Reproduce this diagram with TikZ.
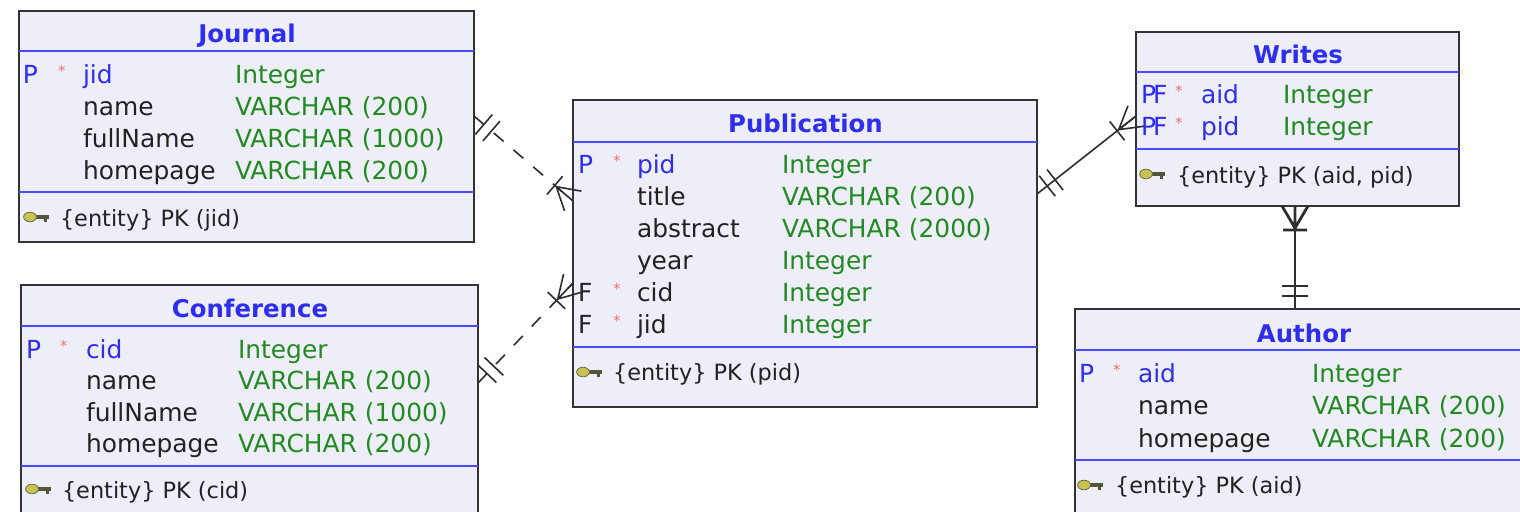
\documentclass[tikz,border=0pt]{standalone}
\usepackage{fontspec}
\usetikzlibrary{fit,decorations.markings}
\newfontfamily\dvsans{DejaVu Sans}
\newcommand\rowfont{\dvsans\fontsize{12.45pt}{14pt}\selectfont}
\newcommand\headfont{\dvsans\bfseries\fontsize{12.2pt}{14pt}\selectfont}
\newcommand\footfont{\dvsans\fontsize{11.2pt}{13pt}\selectfont}
\newcommand\starfont{\dvsans\fontsize{7.5pt}{9pt}\selectfont}
\newcommand\pfmark{P\kern-0.12em F}

\definecolor{tblfill}{HTML}{EEEEF8}
\definecolor{boxline}{HTML}{333333}
\definecolor{sepblue}{HTML}{4A4AFF}
\definecolor{titleblue}{HTML}{2E2EEE}
\definecolor{typegreen}{HTML}{238A23}
\definecolor{reqred}{HTML}{F27070}
\definecolor{txtdark}{HTML}{222222}
\definecolor{connline}{HTML}{2E2E2E}
\definecolor{keyhead}{HTML}{C9C255}
\definecolor{keyedge}{HTML}{6A6A48}

\tikzset{
  tbl/.style={draw=boxline, line width=1.1pt, fill=tblfill, inner sep=0pt, outer sep=0pt},
  sepline/.style={draw=sepblue, line width=0.8pt},
  cell/.style={inner sep=0pt, outer sep=0pt, anchor=base west, font=\rowfont},
  title/.style={inner sep=0pt, outer sep=0pt, anchor=base, font=\headfont, text=titleblue},
  pkflag/.style={cell, text=titleblue},
  fkflag/.style={cell, text=txtdark},
  req/.style={cell, font=\starfont, text=reqred, yshift=3.3pt},
  pkname/.style={cell, text=titleblue},
  colname/.style={cell, text=txtdark},
  coltype/.style={cell, text=typegreen},
  foot/.style={cell, font=\footfont, text=txtdark},
  keyicon/.pic={
    \fill[keyedge!80!black] (4pt,-1.1pt) rectangle (12.5pt,1.1pt);
    \fill[keyedge!80!black] (10pt,-1.1pt) rectangle (11.3pt,-2.6pt);
    \filldraw[fill=keyhead, draw=keyedge, line width=0.4pt] (3pt,0) ellipse [x radius=3.2pt, y radius=2.4pt];
  },
  conn/.style={draw=connline, line width=0.8pt},
  connthick/.style={draw=connline, line width=1.4pt},
  dashline/.style={dash pattern=on 6.5pt off 6.5pt},
  one start/.style={postaction={decorate, decoration={markings, mark=at position 0 with {
    \draw[solid] (6.5pt,-6.5pt) -- (6.5pt,6.5pt) (11.5pt,-6.5pt) -- (11.5pt,6.5pt);}}}},
  many end/.style={postaction={decorate, decoration={markings, mark=at position 1 with {
    \draw[solid] (-11pt,0) -- (0,6.5pt) (-11pt,0) -- (0,0) (-11pt,0) -- (0,-6.5pt)
      (-12pt,-6pt) -- (-12pt,6pt);}}}},
}

\begin{document}
\begin{tikzpicture}[x=0.5pt, y=-0.5pt]
\useasboundingbox (0,0) rectangle (1520,511);
\clip (0,0) rectangle (1520,511);
\fill[white] (0,0) rectangle (1520,511);

% ---------- tables ----------
\node[tbl, fit={(19,11) (474,242)}] (journal) {};
\node[tbl, fit={(21,285) (478,560)}] (conf) {};
\node[tbl, fit={(573,100) (1037,407)}] (pub) {};
\node[tbl, fit={(1136,32) (1459,206)}] (writes) {};
\node[tbl, fit={(1075,309) (1560,560)}] (author) {};

% header and key separators
\draw[sepline] (journal.west |- 0,51) -- (journal.east |- 0,51);
\draw[sepline] (journal.west |- 0,192) -- (journal.east |- 0,192);
\draw[sepline] (conf.west |- 0,326) -- (conf.east |- 0,326);
\draw[sepline] (conf.west |- 0,466) -- (conf.east |- 0,466);
\draw[sepline] (pub.west |- 0,142) -- (pub.east |- 0,142);
\draw[sepline] (pub.west |- 0,347) -- (pub.east |- 0,347);
\draw[sepline] (writes.west |- 0,72) -- (writes.east |- 0,72);
\draw[sepline] (writes.west |- 0,149) -- (writes.east |- 0,149);
\draw[sepline] (author.west |- 0,350) -- (author.east |- 0,350);
\draw[sepline] (author.west |- 0,460) -- (author.east |- 0,460);

% ---------- Journal ----------
\node[title] (j-title) at (247,42) {Journal};
\node[pkflag] (j-f1) at (23,83) {P};
\node[req] (j-r1) at (58,83) {*};
\node[pkname] (j-n1) at (83,83) {jid};
\node[coltype] (j-t1) at (235,83) {Integer};
\node[colname] (j-n2) at (83,115) {name};
\node[coltype] (j-t2) at (235,115) {VARCHAR (200)};
\node[colname] (j-n3) at (83,147) {fullName};
\node[coltype] (j-t3) at (235,147) {VARCHAR (1000)};
\node[colname] (j-n4) at (83,179) {homepage};
\node[coltype] (j-t4) at (235,179) {VARCHAR (200)};
\pic at (24,217) {keyicon};
\node[foot] (j-pk) at (60,226) {\{entity\} PK (jid)};

% ---------- Conference ----------
\node[title] (c-title) at (250,317) {Conference};
\node[pkflag] (c-f1) at (26,358) {P};
\node[req] (c-r1) at (60,358) {*};
\node[pkname] (c-n1) at (86,358) {cid};
\node[coltype] (c-t1) at (238,358) {Integer};
\node[colname] (c-n2) at (86,389.5) {name};
\node[coltype] (c-t2) at (238,389.5) {VARCHAR (200)};
\node[colname] (c-n3) at (86,421) {fullName};
\node[coltype] (c-t3) at (238,421) {VARCHAR (1000)};
\node[colname] (c-n4) at (86,452.5) {homepage};
\node[coltype] (c-t4) at (238,452.5) {VARCHAR (200)};
\pic at (26,489) {keyicon};
\node[foot] (c-pk) at (62,498) {\{entity\} PK (cid)};

% ---------- Publication ----------
\node[title] (p-title) at (805.5,132) {Publication};
\node[pkflag] (p-f1) at (578,173) {P};
\node[req] (p-r1) at (613,173) {*};
\node[pkname] (p-n1) at (637,173) {pid};
\node[coltype] (p-t1) at (782,173) {Integer};
\node[colname] (p-n2) at (637,205) {title};
\node[coltype] (p-t2) at (782,205) {VARCHAR (200)};
\node[colname] (p-n3) at (637,237) {abstract};
\node[coltype] (p-t3) at (782,237) {VARCHAR (2000)};
\node[colname] (p-n4) at (637,269) {year};
\node[coltype] (p-t4) at (782,269) {Integer};
\node[fkflag] (p-f5) at (578,301) {F};
\node[req] (p-r5) at (613,301) {*};
\node[colname] (p-n5) at (637,301) {cid};
\node[coltype] (p-t5) at (782,301) {Integer};
\node[fkflag] (p-f6) at (578,333) {F};
\node[req] (p-r6) at (613,333) {*};
\node[colname] (p-n6) at (637,333) {jid};
\node[coltype] (p-t6) at (782,333) {Integer};
\pic at (577,372) {keyicon};
\node[foot] (p-pk) at (613,380) {\{entity\} PK (pid)};

% ---------- Writes ----------
\node[title] (w-title) at (1298,63) {Writes};
\node[pkflag] (w-f1) at (1141,103) {\pfmark};
\node[req] (w-r1) at (1175,103) {*};
\node[pkname] (w-n1) at (1201,103) {aid};
\node[coltype] (w-t1) at (1283,103) {Integer};
\node[pkflag] (w-f2) at (1141,135) {\pfmark};
\node[req] (w-r2) at (1175,135) {*};
\node[pkname] (w-n2) at (1201,135) {pid};
\node[coltype] (w-t2) at (1283,135) {Integer};
\pic at (1140,174) {keyicon};
\node[foot] (w-pk) at (1177,183) {\{entity\} PK (aid, pid)};

% ---------- Author ----------
\node[title] (a-title) at (1304,342) {Author};
\node[pkflag] (a-f1) at (1079,382) {P};
\node[req] (a-r1) at (1113,382) {*};
\node[pkname] (a-n1) at (1138,382) {aid};
\node[coltype] (a-t1) at (1312,382) {Integer};
\node[colname] (a-n2) at (1138,414.5) {name};
\node[coltype] (a-t2) at (1312,414.5) {VARCHAR (200)};
\node[colname] (a-n3) at (1138,447) {homepage};
\node[coltype] (a-t3) at (1312,447) {VARCHAR (200)};
\pic at (1078,485) {keyicon};
\node[foot] (a-pk) at (1115,493) {\{entity\} PK (aid)};

% ---------- relationships ----------
\draw[conn, dashline, one start, many end] (journal.east |- 0,116) -- (pub.west |- 0,201);
\draw[conn, dashline, one start, many end] (conf.east |- 0,383) -- (pub.west |- 0,283);
\draw[conn, one start, many end] (pub.east |- 0,194) -- (writes.west |- 0,116);
\draw[connthick, one start, many end] (author.north -| 1295,0) -- (writes.south -| 1295,0);
\end{tikzpicture}
\end{document}
